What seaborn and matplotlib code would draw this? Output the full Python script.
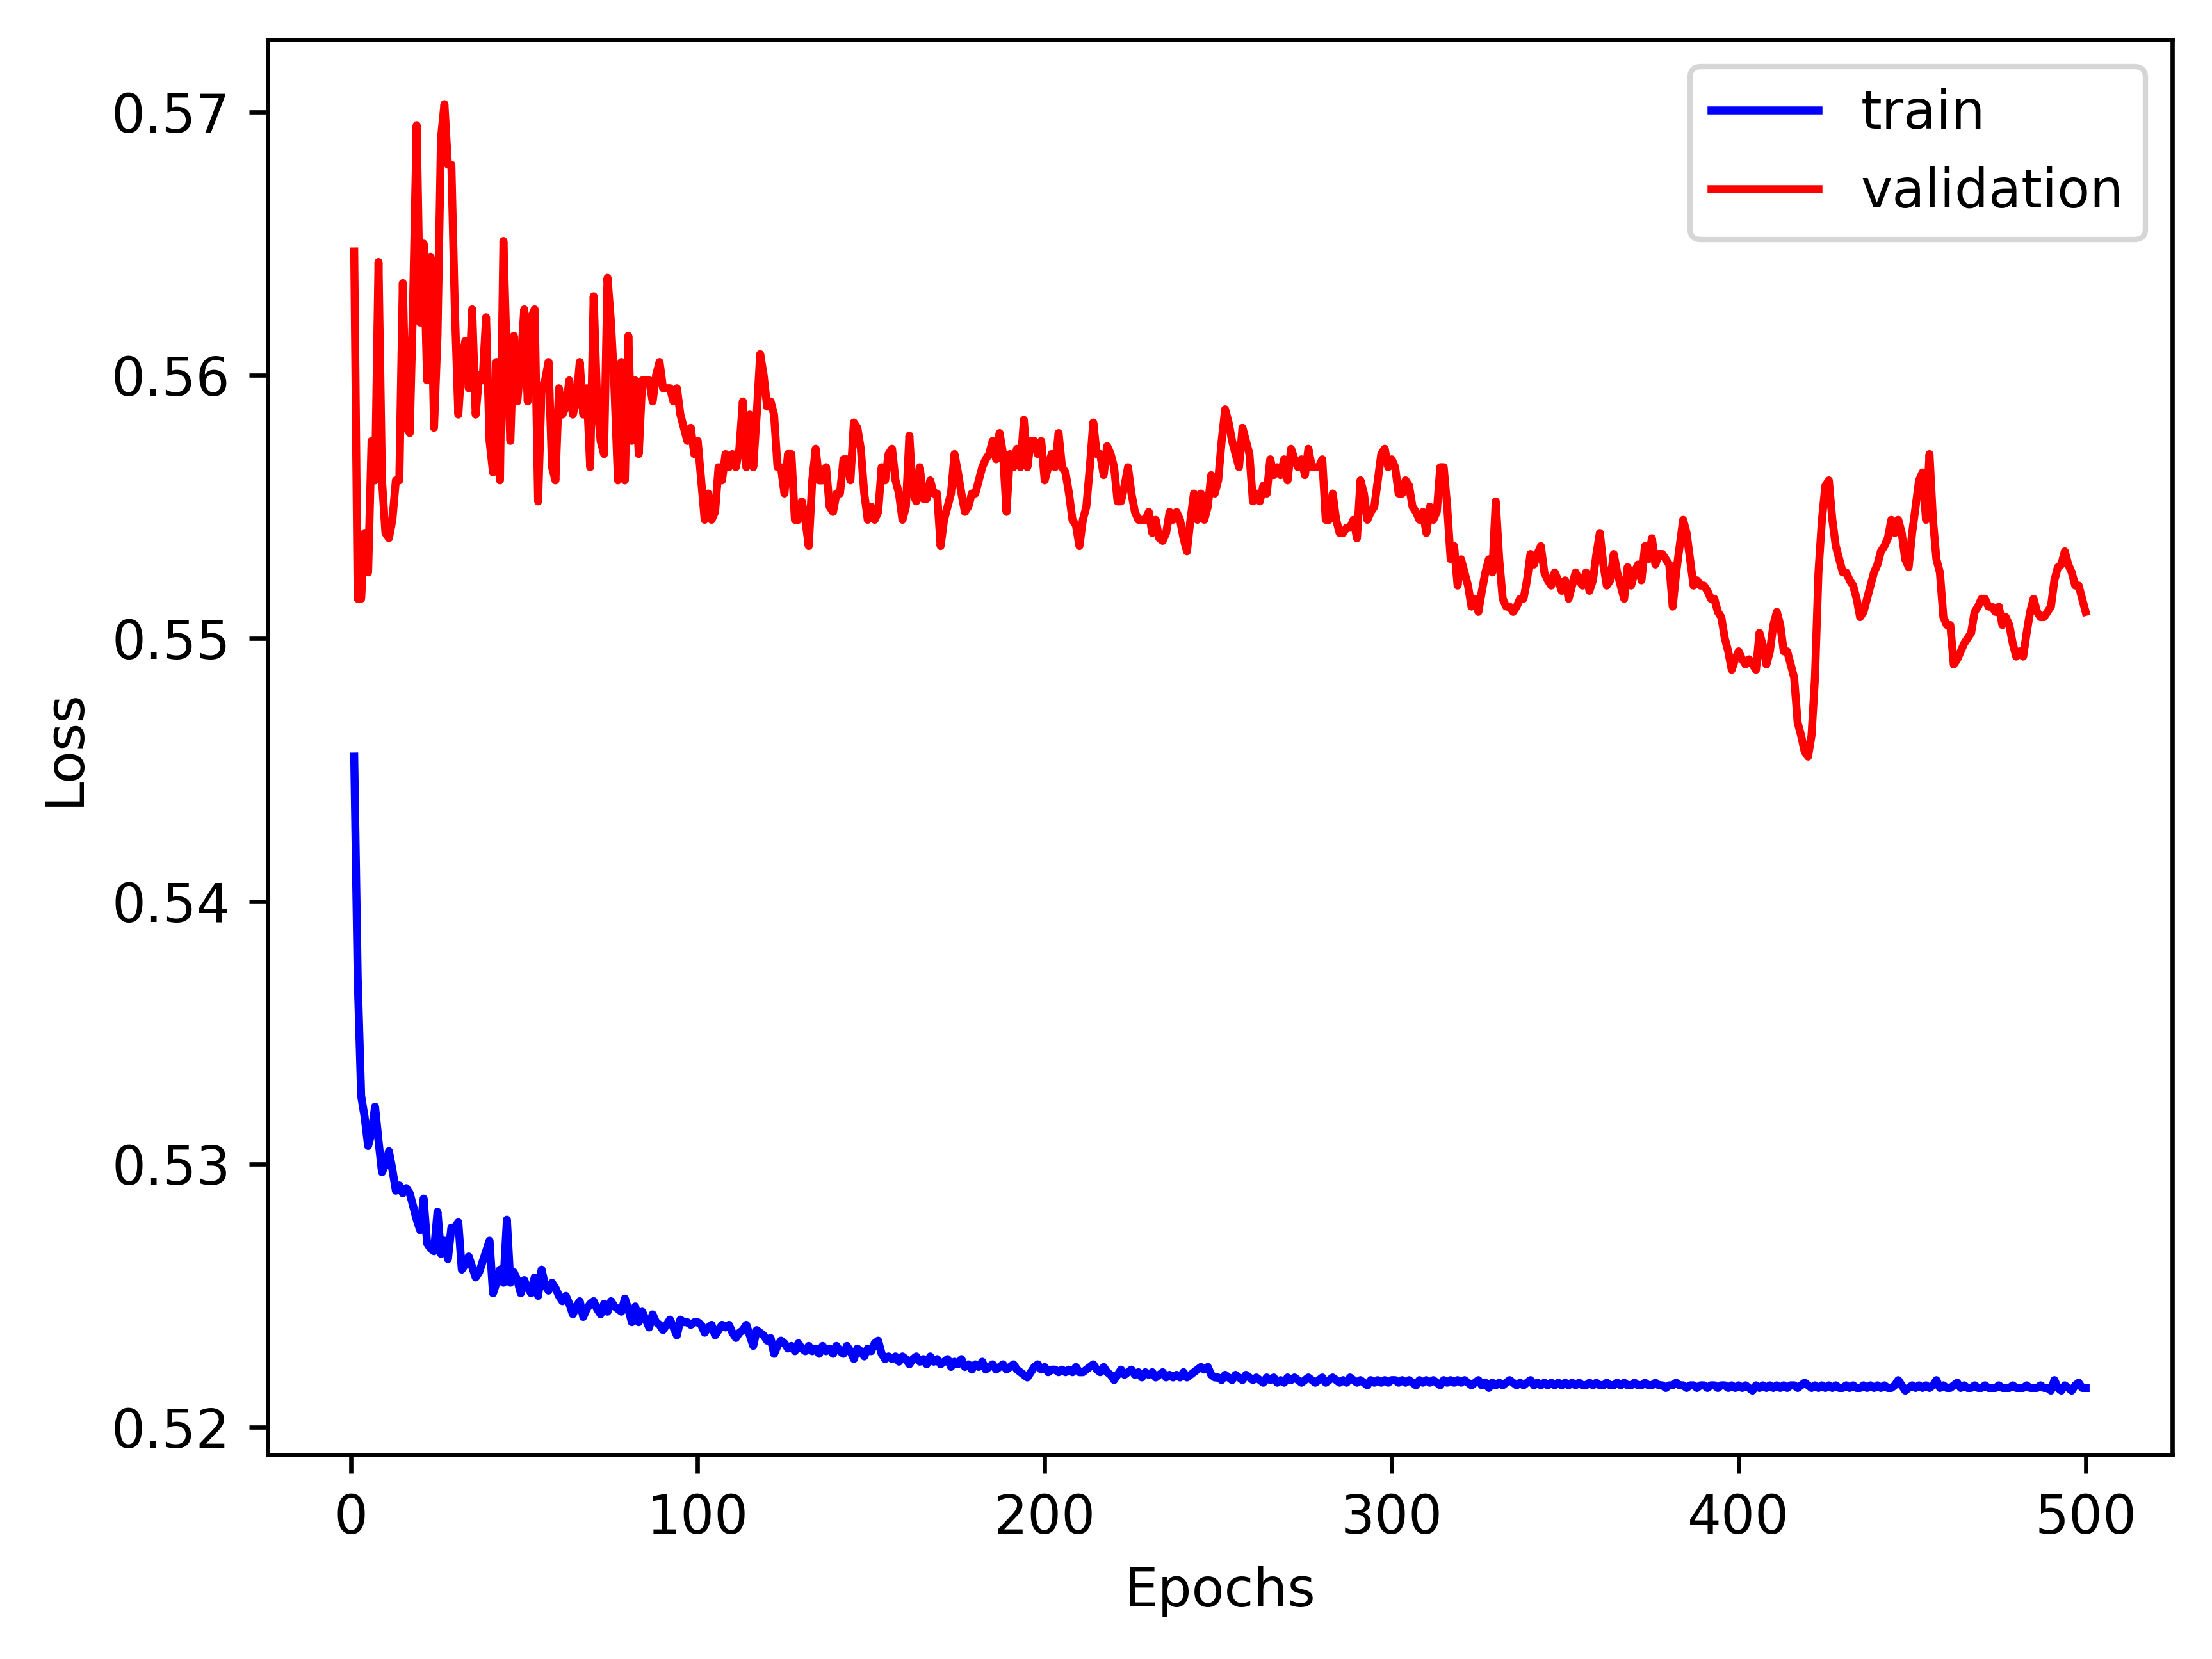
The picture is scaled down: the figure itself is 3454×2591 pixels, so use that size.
import matplotlib
matplotlib.use("Agg")
import matplotlib.pyplot as plt
import numpy as np
import pandas as pd
import seaborn as sns

# epochs 1..500
epochs = np.arange(1, 501)

train_loss = [
    0.5455, 0.5371, 0.5326, 0.5318, 0.5307, 0.5312, 0.5322, 0.5309, 0.5297, 0.5300,
    0.5305, 0.5298, 0.5290, 0.5292, 0.5289, 0.5291, 0.5289, 0.5284, 0.5279, 0.5275,
    0.5287, 0.5270, 0.5268, 0.5267, 0.5282, 0.5266, 0.5271, 0.5264, 0.5276, 0.5276,
    0.5278, 0.5260, 0.5262, 0.5265, 0.5261, 0.5257, 0.5259, 0.5263, 0.5267, 0.5271,
    0.5251, 0.5255, 0.5260, 0.5255, 0.5279, 0.5255, 0.5259, 0.5256, 0.5251, 0.5256,
    0.5253, 0.5251, 0.5257, 0.5250, 0.5260, 0.5254, 0.5252, 0.5255, 0.5253, 0.5250,
    0.5248, 0.5250, 0.5247, 0.5243, 0.5246, 0.5248, 0.5242, 0.5245, 0.5247, 0.5248,
    0.5245, 0.5243, 0.5247, 0.5244, 0.5248, 0.5246, 0.5245, 0.5244, 0.5249, 0.5245,
    0.5240, 0.5246, 0.5240, 0.5244, 0.5241, 0.5238, 0.5243, 0.5240, 0.5239, 0.5237,
    0.5239, 0.5241, 0.5238, 0.5235, 0.5241, 0.5240, 0.5240, 0.5239, 0.5240, 0.5240,
    0.5239, 0.5236, 0.5238, 0.5239, 0.5235, 0.5237, 0.5239, 0.5238, 0.5239, 0.5236,
    0.5234, 0.5236, 0.5237, 0.5239, 0.5235, 0.5231, 0.5237, 0.5236, 0.5235, 0.5233,
    0.5234, 0.5228, 0.5231, 0.5233, 0.5232, 0.5230, 0.5231, 0.5229, 0.5232, 0.5230,
    0.5229, 0.5231, 0.5229, 0.5230, 0.5228, 0.5231, 0.5229, 0.5230, 0.5228, 0.5231,
    0.5229, 0.5228, 0.5231, 0.5229, 0.5226, 0.5230, 0.5229, 0.5227, 0.5230, 0.5229,
    0.5232, 0.5233, 0.5228, 0.5226, 0.5227, 0.5226, 0.5227, 0.5225, 0.5227, 0.5226,
    0.5224, 0.5226, 0.5227, 0.5225, 0.5226, 0.5224, 0.5227, 0.5225, 0.5226, 0.5224,
    0.5225, 0.5226, 0.5223, 0.5225, 0.5224, 0.5226, 0.5223, 0.5224, 0.5222, 0.5224,
    0.5223, 0.5225, 0.5222, 0.5223, 0.5224, 0.5222, 0.5223, 0.5224, 0.5222, 0.5223,
    0.5224, 0.5222, 0.5221, 0.5220, 0.5219, 0.5221, 0.5223, 0.5224, 0.5222, 0.5223,
    0.5221, 0.5222, 0.5222, 0.5221, 0.5222, 0.5221, 0.5222, 0.5221, 0.5223, 0.5221,
    0.5221, 0.5222, 0.5223, 0.5224, 0.5222, 0.5221, 0.5223, 0.5221, 0.5220, 0.5218,
    0.5220, 0.5222, 0.5220, 0.5221, 0.5222, 0.5220, 0.5221, 0.5219, 0.5221, 0.5220,
    0.5221, 0.5219, 0.5220, 0.5221, 0.5219, 0.5220, 0.5219, 0.5220, 0.5219, 0.5221,
    0.5219, 0.5220, 0.5221, 0.5222, 0.5223, 0.5222, 0.5223, 0.5220, 0.5219, 0.5219,
    0.5218, 0.5220, 0.5219, 0.5218, 0.5220, 0.5219, 0.5218, 0.5220, 0.5219, 0.5218,
    0.5219, 0.5218, 0.5217, 0.5219, 0.5218, 0.5219, 0.5217, 0.5218, 0.5217, 0.5219,
    0.5218, 0.5219, 0.5218, 0.5217, 0.5218, 0.5219, 0.5218, 0.5217, 0.5218, 0.5219,
    0.5217, 0.5218, 0.5219, 0.5218, 0.5217, 0.5218, 0.5217, 0.5219, 0.5218, 0.5217,
    0.5218, 0.5217, 0.5216, 0.5218, 0.5217, 0.5218, 0.5217, 0.5218, 0.5217, 0.5218,
    0.5218, 0.5217, 0.5218, 0.5217, 0.5218, 0.5217, 0.5216, 0.5218, 0.5217, 0.5218,
    0.5217, 0.5218, 0.5217, 0.5216, 0.5218, 0.5217, 0.5218, 0.5217, 0.5218, 0.5217,
    0.5218, 0.5217, 0.5216, 0.5217, 0.5218, 0.5216, 0.5217, 0.5215, 0.5217, 0.5216,
    0.5217, 0.5216, 0.5217, 0.5218, 0.5217, 0.5216, 0.5217, 0.5216, 0.5217, 0.5218,
    0.5216, 0.5217, 0.5216, 0.5217, 0.5216, 0.5217, 0.5216, 0.5217, 0.5216, 0.5217,
    0.5216, 0.5217, 0.5216, 0.5217, 0.5216, 0.5216, 0.5217, 0.5216, 0.5217, 0.5216,
    0.5216, 0.5217, 0.5216, 0.5216, 0.5217, 0.5216, 0.5217, 0.5216, 0.5216, 0.5217,
    0.5216, 0.5216, 0.5217, 0.5216, 0.5216, 0.5217, 0.5216, 0.5216, 0.5215, 0.5216,
    0.5216, 0.5217, 0.5216, 0.5216, 0.5215, 0.5216, 0.5216, 0.5215, 0.5216, 0.5216,
    0.5215, 0.5216, 0.5216, 0.5215, 0.5216, 0.5216, 0.5215, 0.5216, 0.5215, 0.5216,
    0.5215, 0.5216, 0.5215, 0.5214, 0.5216, 0.5215, 0.5216, 0.5215, 0.5216, 0.5215,
    0.5216, 0.5215, 0.5216, 0.5215, 0.5216, 0.5216, 0.5215, 0.5216, 0.5217, 0.5216,
    0.5215, 0.5216, 0.5215, 0.5216, 0.5215, 0.5216, 0.5215, 0.5216, 0.5215, 0.5215,
    0.5216, 0.5215, 0.5216, 0.5215, 0.5215, 0.5216, 0.5215, 0.5216, 0.5215, 0.5216,
    0.5215, 0.5216, 0.5215, 0.5215, 0.5216, 0.5218, 0.5216, 0.5214, 0.5215, 0.5216,
    0.5215, 0.5216, 0.5215, 0.5216, 0.5215, 0.5216, 0.5218, 0.5215, 0.5216, 0.5215,
    0.5215, 0.5216, 0.5217, 0.5215, 0.5216, 0.5215, 0.5215, 0.5216, 0.5215, 0.5215,
    0.5216, 0.5215, 0.5215, 0.5215, 0.5216, 0.5215, 0.5215, 0.5215, 0.5216, 0.5215,
    0.5215, 0.5215, 0.5216, 0.5215, 0.5215, 0.5215, 0.5216, 0.5215, 0.5215, 0.5214,
    0.5218, 0.5215, 0.5214, 0.5216, 0.5215, 0.5214, 0.5216, 0.5217, 0.5215, 0.5215,
]

val_loss = [
    0.5647, 0.5515, 0.5515, 0.5540, 0.5525, 0.5575, 0.5560, 0.5643, 0.5560, 0.5540,
    0.5538, 0.5545, 0.5560, 0.5560, 0.5635, 0.5580, 0.5578, 0.5630, 0.5695, 0.5620,
    0.5650, 0.5598, 0.5645, 0.5580, 0.5615, 0.5690, 0.5703, 0.5680, 0.5680, 0.5625,
    0.5585, 0.5605, 0.5613, 0.5595, 0.5625, 0.5585, 0.5600, 0.5598, 0.5622, 0.5575,
    0.5563, 0.5605, 0.5560, 0.5651, 0.5605, 0.5575, 0.5615, 0.5590, 0.5605, 0.5625,
    0.5590, 0.5622, 0.5625, 0.5552, 0.5595, 0.5598, 0.5605, 0.5565, 0.5560, 0.5595,
    0.5585, 0.5588, 0.5598, 0.5585, 0.5590, 0.5605, 0.5585, 0.5595, 0.5565, 0.5630,
    0.5590, 0.5575, 0.5570, 0.5637, 0.5620, 0.5595, 0.5560, 0.5605, 0.5560, 0.5615,
    0.5575, 0.5598, 0.5570, 0.5598, 0.5598, 0.5598, 0.5590, 0.5600, 0.5605, 0.5595,
    0.5595, 0.5595, 0.5590, 0.5595, 0.5585, 0.5580, 0.5575, 0.5580, 0.5570, 0.5575,
    0.5560, 0.5545, 0.5555, 0.5545, 0.5548, 0.5565, 0.5560, 0.5570, 0.5565, 0.5570,
    0.5565, 0.5572, 0.5590, 0.5565, 0.5585, 0.5565, 0.5585, 0.5608, 0.5600, 0.5588,
    0.5590, 0.5585, 0.5565, 0.5565, 0.5555, 0.5570, 0.5570, 0.5545, 0.5545, 0.5552,
    0.5545, 0.5535, 0.5560, 0.5572, 0.5560, 0.5560, 0.5565, 0.5550, 0.5548, 0.5555,
    0.5555, 0.5568, 0.5568, 0.5560, 0.5582, 0.5580, 0.5572, 0.5555, 0.5545, 0.5550,
    0.5545, 0.5548, 0.5565, 0.5560, 0.5570, 0.5572, 0.5560, 0.5555, 0.5545, 0.5550,
    0.5577, 0.5555, 0.5552, 0.5565, 0.5553, 0.5553, 0.5560, 0.5555, 0.5555, 0.5535,
    0.5545, 0.5550, 0.5555, 0.5570, 0.5563, 0.5555, 0.5548, 0.5550, 0.5555, 0.5555,
    0.5560, 0.5565, 0.5568, 0.5570, 0.5575, 0.5568, 0.5578, 0.5570, 0.5548, 0.5570,
    0.5565, 0.5572, 0.5565, 0.5583, 0.5565, 0.5575, 0.5575, 0.5570, 0.5575, 0.5560,
    0.5565, 0.5570, 0.5565, 0.5578, 0.5565, 0.5563, 0.5555, 0.5545, 0.5543, 0.5535,
    0.5545, 0.5550, 0.5565, 0.5582, 0.5570, 0.5570, 0.5562, 0.5573, 0.5570, 0.5565,
    0.5552, 0.5552, 0.5558, 0.5565, 0.5555, 0.5548, 0.5545, 0.5545, 0.5545, 0.5548,
    0.5540, 0.5545, 0.5538, 0.5537, 0.5540, 0.5548, 0.5545, 0.5548, 0.5545, 0.5538,
    0.5533, 0.5545, 0.5555, 0.5545, 0.5555, 0.5545, 0.5550, 0.5562, 0.5555, 0.5560,
    0.5575, 0.5587, 0.5582, 0.5575, 0.5570, 0.5565, 0.5580, 0.5575, 0.5570, 0.5552,
    0.5555, 0.5552, 0.5558, 0.5555, 0.5568, 0.5562, 0.5565, 0.5562, 0.5568, 0.5560,
    0.5572, 0.5568, 0.5565, 0.5568, 0.5562, 0.5572, 0.5565, 0.5565, 0.5565, 0.5568,
    0.5545, 0.5545, 0.5555, 0.5545, 0.5540, 0.5540, 0.5542, 0.5542, 0.5545, 0.5538,
    0.5560, 0.5555, 0.5545, 0.5548, 0.5550, 0.5560, 0.5570, 0.5572, 0.5565, 0.5568,
    0.5565, 0.5555, 0.5555, 0.5560, 0.5558, 0.5550, 0.5548, 0.5545, 0.5548, 0.5540,
    0.5550, 0.5545, 0.5548, 0.5565, 0.5565, 0.5550, 0.5530, 0.5535, 0.5520, 0.5530,
    0.5525, 0.5520, 0.5512, 0.5515, 0.5510, 0.5518, 0.5525, 0.5530, 0.5525, 0.5552,
    0.5530, 0.5515, 0.5512, 0.5512, 0.5510, 0.5512, 0.5515, 0.5515, 0.5522, 0.5532,
    0.5528, 0.5532, 0.5535, 0.5525, 0.5522, 0.5520, 0.5525, 0.5522, 0.5518, 0.5522,
    0.5515, 0.5520, 0.5525, 0.5522, 0.5520, 0.5525, 0.5518, 0.5522, 0.5532, 0.5540,
    0.5528, 0.5520, 0.5522, 0.5532, 0.5525, 0.5520, 0.5515, 0.5527, 0.5520, 0.5525,
    0.5528, 0.5522, 0.5535, 0.5530, 0.5538, 0.5528, 0.5532, 0.5532, 0.5530, 0.5528,
    0.5512, 0.5525, 0.5535, 0.5545, 0.5540, 0.5530, 0.5520, 0.5522, 0.5520, 0.5520,
    0.5518, 0.5515, 0.5515, 0.5510, 0.5508, 0.5500, 0.5495, 0.5488, 0.5492, 0.5495,
    0.5492, 0.5490, 0.5492, 0.5490, 0.5488, 0.5502, 0.5497, 0.5490, 0.5495, 0.5505,
    0.5510, 0.5505, 0.5495, 0.5495, 0.5490, 0.5485, 0.5468, 0.5463, 0.5457, 0.5455,
    0.5463, 0.5485, 0.5525, 0.5545, 0.5558, 0.5560, 0.5545, 0.5535, 0.5530, 0.5525,
    0.5525, 0.5522, 0.5520, 0.5515, 0.5508, 0.5510, 0.5515, 0.5520, 0.5525, 0.5528,
    0.5533, 0.5535, 0.5538, 0.5545, 0.5540, 0.5545, 0.5540, 0.5530, 0.5527, 0.5540,
    0.5550, 0.5560, 0.5563, 0.5545, 0.5570, 0.5545, 0.5530, 0.5525, 0.5508, 0.5505,
    0.5505, 0.5490, 0.5492, 0.5495, 0.5498, 0.5500, 0.5502, 0.5510, 0.5512, 0.5515,
    0.5515, 0.5512, 0.5512, 0.5510, 0.5512, 0.5505, 0.5508, 0.5505, 0.5498, 0.5493,
    0.5495, 0.5493, 0.5502, 0.5510, 0.5515, 0.5510, 0.5508, 0.5508, 0.5510, 0.5512,
    0.5522, 0.5527, 0.5528, 0.5533, 0.5528, 0.5525, 0.5520, 0.5520, 0.5515, 0.5510,
]

df = pd.DataFrame({"epoch": epochs, "train": train_loss, "validation": val_loss})

fig, ax = plt.subplots(figsize=(3454 / 600, 2591 / 600), dpi=600)
sns.lineplot(data=df, x="epoch", y="train", color="blue", label="train", ax=ax, linewidth=1.5)
sns.lineplot(data=df, x="epoch", y="validation", color="red", label="validation", ax=ax, linewidth=1.5)

ax.set_xlabel("Epochs")
ax.set_ylabel("Loss")
ax.set_yticks([0.52, 0.53, 0.54, 0.55, 0.56, 0.57])
ax.legend(loc="upper right")

fig.subplots_adjust(left=0.121, right=0.982, bottom=0.123, top=0.976)
fig.savefig("out.png", dpi=600)
